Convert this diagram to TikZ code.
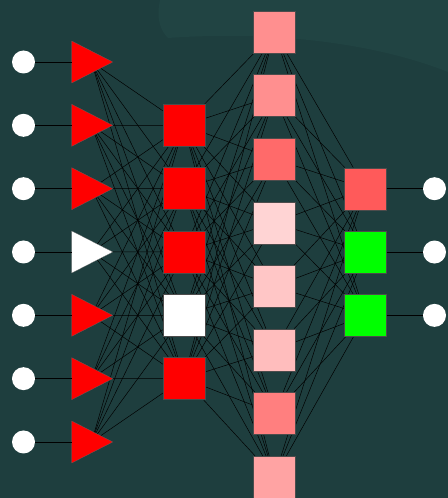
\documentclass[tikz,border=0pt]{standalone}
\usepackage{tikz}
\usetikzlibrary{shapes.geometric, backgrounds}
\definecolor{bgteal}{HTML}{1E3E3E}
\definecolor{bgtop}{HTML}{214443}
\definecolor{outred}{HTML}{FF5A5A}
\definecolor{outgreen}{HTML}{00FF00}
\definecolor{hpinkA}{HTML}{FF8F8F}
\definecolor{hpinkB}{HTML}{FF6A6A}
\definecolor{hpinkC}{HTML}{FFD4D4}
\definecolor{hpinkD}{HTML}{FFC6C6}
\definecolor{hpinkE}{HTML}{FFBDBD}
\definecolor{hpinkF}{HTML}{FF7F7F}
\definecolor{hpinkG}{HTML}{FFA3A3}

\begin{document}
\begin{tikzpicture}[
        x=0.05cm, y=-0.05cm,
        dot/.style={circle, fill=white, minimum size=1.15cm, inner sep=0pt},
        tri/.style={isosceles triangle, isosceles triangle stretches,
                    minimum width=2.1cm, minimum height=2.05cm,
                    inner sep=0pt, draw=black!60, line width=0.3pt},
        unit/.style={rectangle, minimum size=2.1cm, inner sep=0pt,
                     draw=black!70, line width=0.4pt},
        link/.style={draw=black, line width=0.7pt}
    ]
    \useasboundingbox (0,0) rectangle (448,498);

    %% input layer
    \foreach \i in {1,...,7}
        \node[dot] (in\i) at (23.5, {62+63.33*(\i-1)}) {};
    \foreach \i/\c in {1/red,2/red,3/red,4/white,5/red,6/red,7/red}
        \node[tri, fill=\c, anchor=apex] (tri\i) at (113, {62+63.33*(\i-1)}) {};
    \foreach \i in {1,...,7}
        \draw[link] (in\i) -- (tri\i);

    %% first hidden layer
    \foreach \c [count=\j] in {red,red,red,white,red}
        \node[unit, fill=\c] (hA\j) at (184, {125.3+63.33*(\j-1)}) {};

    %% second hidden layer
    \foreach \c [count=\j] in {hpinkA,hpinkA,hpinkB,hpinkC,hpinkD,hpinkE,hpinkF,hpinkG}
        \node[unit, fill=\c] (hB\j) at (274.5, {32+63.57*(\j-1)}) {};

    %% output layer
    \foreach \c [count=\k] in {outred,outgreen,outgreen} {
        \node[unit, fill=\c] (out\k) at (365.5, {188.7+63.33*(\k-1)}) {};
        \node[dot] (res\k) at (434.5, {188.7+63.33*(\k-1)}) {};
        \draw[link] (out\k) -- (res\k);
    }

    %% background and weights
    \begin{scope}[on background layer]
        \fill[bgteal] (0,0) rectangle (448,498);
        \fill[bgtop] (160,0) -- (448,0) -- (448,72)
            .. controls (380,45) and (280,30) .. (168,38)
            .. controls (156,26) and (158,10) .. (160,0) -- cycle;
        \foreach \i in {1,...,7}
            \foreach \j in {1,...,5}
                \draw[link] ([xshift=0.35cm]tri\i.center) -- (hA\j);
        \foreach \i in {1,...,5}
            \foreach \j in {1,...,8}
                \draw[link] (hA\i) -- (hB\j);
        \foreach \i in {1,...,8}
            \foreach \k in {1,2,3}
                \draw[link] (hB\i) -- (out\k);
    \end{scope}

\end{tikzpicture}
\end{document}
